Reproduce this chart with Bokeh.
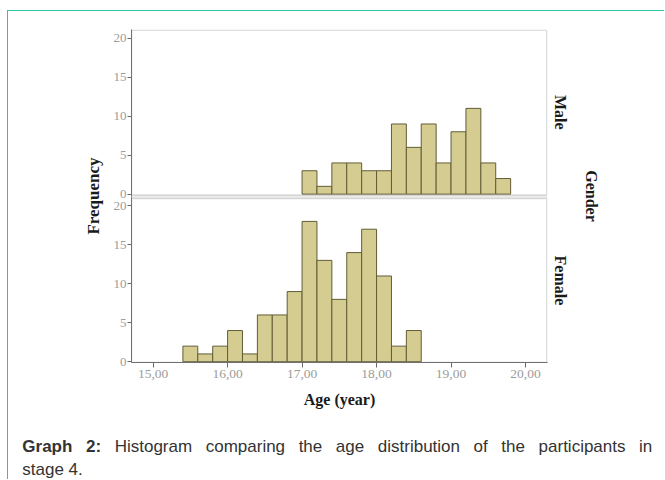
import numpy as np
from bokeh.plotting import figure
from bokeh.layouts import column, row
from bokeh.models import Range1d, FixedTicker, BoxAnnotation, Label, ColumnDataSource, LinearAxis
from bokeh.transform import dodge
from bokeh.embed import file_html
from bokeh.resources import INLINE

# ---------------- data ----------------
bin_width = 0.2
female_bin_start = [15.4, 15.6, 15.8, 16.0, 16.2, 16.4, 16.6, 16.8,
                    17.0, 17.2, 17.4, 17.6, 17.8, 18.0, 18.2, 18.4]
female_counts = [2, 1, 2, 4, 1, 6, 6, 9, 18, 13, 8, 14, 17, 11, 2, 4]
male_bin_start = [17.0, 17.2, 17.4, 17.6, 17.8, 18.0, 18.2,
                  18.4, 18.6, 18.8, 19.0, 19.2, 19.4, 19.6]
male_counts = [3, 1, 4, 4, 3, 3, 9, 6, 9, 4, 8, 11, 4, 2]

x_ticks = [15, 16, 17, 18, 19, 20]
x_tick_labels = ["15,00", "16,00", "17,00", "18,00", "19,00", "20,00"]
y_ticks = [0, 5, 10, 15, 20]
y_tick_labels = ["0", "5", "10", "15", "20"]
panel_names = ["Male", "Female"]
x_title = "Age (year)"
y_title = "Frequency"
facet_title = "Gender"
caption_bold = ["Graph", "2:"]
caption_words = ["Histogram", "comparing", "the", "age", "distribution",
                 "of", "the", "participants", "in"]
caption_line2 = "stage 4."

# ---------------- layout constants ----------------
Y_START, Y_END = -0.1, 42.62
X_START, X_END = 14.71, 20.295
MALE_BASE = 21.5          # vertical offset of the upper (Male) panel
FEMALE_TOP = 20.95
MALE_BOTTOM = 21.38

SERIF = "Liberation Serif"
SANS = "Liberation Sans"
BAR_FILL = "#d4cc90"
BAR_LINE = "#625d36"
FRAME = "#8f8f8f"
TICK_TXT = "#9c9c9c"
TEAL = "#2ec4a6"
DARK = "#1a1a1a"

# ---------- main chart ----------
p = figure(width=656, height=408, output_backend="svg", toolbar_location=None,
           x_range=Range1d(X_START, X_END), y_range=Range1d(Y_START, Y_END),
           min_border_left=123, min_border_right=117,
           min_border_top=18, min_border_bottom=57)
p.xgrid.visible = False
p.ygrid.visible = False
p.outline_line_color = None

# panel frames
p.add_layout(BoxAnnotation(bottom=FEMALE_TOP, top=MALE_BOTTOM,
                           fill_color="#ececec", fill_alpha=1, line_color=None))
p.add_layout(BoxAnnotation(top=FEMALE_TOP, right=X_END - 0.01, fill_color=None,
                           line_color=FRAME, line_width=1.5))
p.add_layout(BoxAnnotation(bottom=MALE_BOTTOM, top=Y_END - 0.1, right=X_END - 0.01,
                           fill_color=None, line_color=FRAME, line_width=1.5))

# bars
fsrc = ColumnDataSource(dict(left=female_bin_start,
                             right=list(np.array(female_bin_start) + bin_width),
                             count=female_counts))
msrc = ColumnDataSource(dict(left=male_bin_start,
                             right=list(np.array(male_bin_start) + bin_width),
                             count=male_counts))
p.quad(left="left", right="right", bottom=0, top="count", source=fsrc,
       fill_color=BAR_FILL, line_color=BAR_LINE, line_width=1)
p.quad(left="left", right="right", bottom=MALE_BASE, top=dodge("count", MALE_BASE),
       source=msrc, fill_color=BAR_FILL, line_color=BAR_LINE, line_width=1)

# x axis
p.xaxis.ticker = FixedTicker(ticks=x_ticks)
p.xaxis.major_label_overrides = dict(zip(x_ticks, x_tick_labels))
p.xaxis.axis_line_color = "#6a6a6a"
p.xaxis.major_tick_line_color = "#6a6a6a"
p.xaxis.major_tick_in = 0
p.xaxis.major_tick_out = 5
p.xaxis.major_label_standoff = 2
p.xaxis.major_label_text_font = SERIF
p.xaxis.major_label_text_font_size = "13.5px"
p.xaxis.major_label_text_color = TICK_TXT
p.xaxis.axis_label = x_title
p.xaxis.axis_label_text_font = SERIF
p.xaxis.axis_label_text_font_style = "bold"
p.xaxis.axis_label_text_font_size = "16px"
p.xaxis.axis_label_text_color = DARK
p.xaxis.axis_label_standoff = 10

# y axis (both panels)
all_y_ticks = y_ticks + [MALE_BASE + t for t in y_ticks]
p.yaxis.ticker = FixedTicker(ticks=all_y_ticks)
p.yaxis.major_label_overrides = dict(zip(all_y_ticks, y_tick_labels + y_tick_labels))
p.yaxis.axis_line_color = "#6a6a6a"
p.yaxis.major_tick_line_color = "#6a6a6a"
p.yaxis.major_tick_in = 0
p.yaxis.major_tick_out = 4
p.yaxis.major_label_standoff = 1
p.yaxis.major_label_text_font = SERIF
p.yaxis.major_label_text_font_size = "13px"
p.yaxis.major_label_text_color = TICK_TXT
p.yaxis.axis_label = y_title
p.yaxis.axis_label_text_font = SERIF
p.yaxis.axis_label_text_font_style = "bold"
p.yaxis.axis_label_text_font_size = "17px"
p.yaxis.axis_label_text_color = DARK
p.yaxis.axis_label_standoff = 8

# facet strip labels on the right, as a label-only axis
male_mid = (MALE_BOTTOM + Y_END) / 2
female_mid = (Y_START + FEMALE_TOP) / 2
facet_axis = LinearAxis(ticker=FixedTicker(ticks=[female_mid, male_mid]),
                        major_label_overrides={female_mid: panel_names[1],
                                               male_mid: panel_names[0]},
                        major_label_orientation="parallel",
                        axis_line_color=None, major_tick_line_color=None,
                        major_tick_out=0, major_tick_in=0, major_label_standoff=4,
                        major_label_text_font=SERIF, major_label_text_font_style="bold",
                        major_label_text_font_size="16px", major_label_text_color=DARK,
                        axis_label=facet_title, axis_label_standoff=11,
                        axis_label_text_font=SERIF, axis_label_text_font_style="bold",
                        axis_label_text_font_size="16px", axis_label_text_color=DARK)
p.add_layout(facet_axis, "right")

# ---------- caption (justified first line) ----------
cap_fig = figure(width=656, height=60, output_backend="svg", toolbar_location=None,
                 x_range=Range1d(0, 656), y_range=Range1d(0, 60),
                 x_axis_type=None, y_axis_type=None, min_border=0)
cap_fig.xgrid.visible = False
cap_fig.ygrid.visible = False
cap_fig.outline_line_color = None

CAP_SIZE = 17
# Arial / Liberation Sans advance widths (per 1000 em)
REG_W = dict(a=556, b=556, c=500, d=556, e=556, f=278, g=556, h=556, i=222, m=833,
             n=556, o=556, p=556, r=333, s=500, t=278, u=556, H=722)
BOLD_W = {"G": 778, "r": 389, "a": 556, "p": 611, "h": 611, "2": 556, ":": 333}


def text_w(word, bold):
    table = BOLD_W if bold else REG_W
    return sum(table[ch] for ch in word) * CAP_SIZE / 1000.0


def cap(text, x, y, bold=False, align="left"):
    cap_fig.add_layout(Label(x=x - 8.5, y=y - 419.5, x_units="canvas", y_units="canvas",
                             text=text, text_align=align, text_baseline="alphabetic",
                             text_font=SANS, text_font_style="bold" if bold else "normal",
                             text_font_size=f"{CAP_SIZE}px", text_color="#333333"))


LINE_LEFT, LINE_RIGHT = 22.3, 652.3
line1, line2 = 446, 469.5
items = [(w_, True) for w_ in caption_bold] + [(w_, False) for w_ in caption_words]
widths = [text_w(w_, b) for w_, b in items]
gap = (LINE_RIGHT - LINE_LEFT - sum(widths)) / (len(items) - 1)
x_cur = LINE_LEFT
for (w_, b), wd in zip(items, widths):
    cap(w_, x_cur, line1, bold=b)
    x_cur += wd + gap
cap(caption_line2, LINE_LEFT, line2)

layout = column(row(p), row(cap_fig), margin=(10, 0, 0, 7),
                styles={"border-left": f"1.5px solid {TEAL}",
                        "border-top": f"1.5px solid {TEAL}"})
open("out.html", "w").write(file_html(layout, INLINE))
